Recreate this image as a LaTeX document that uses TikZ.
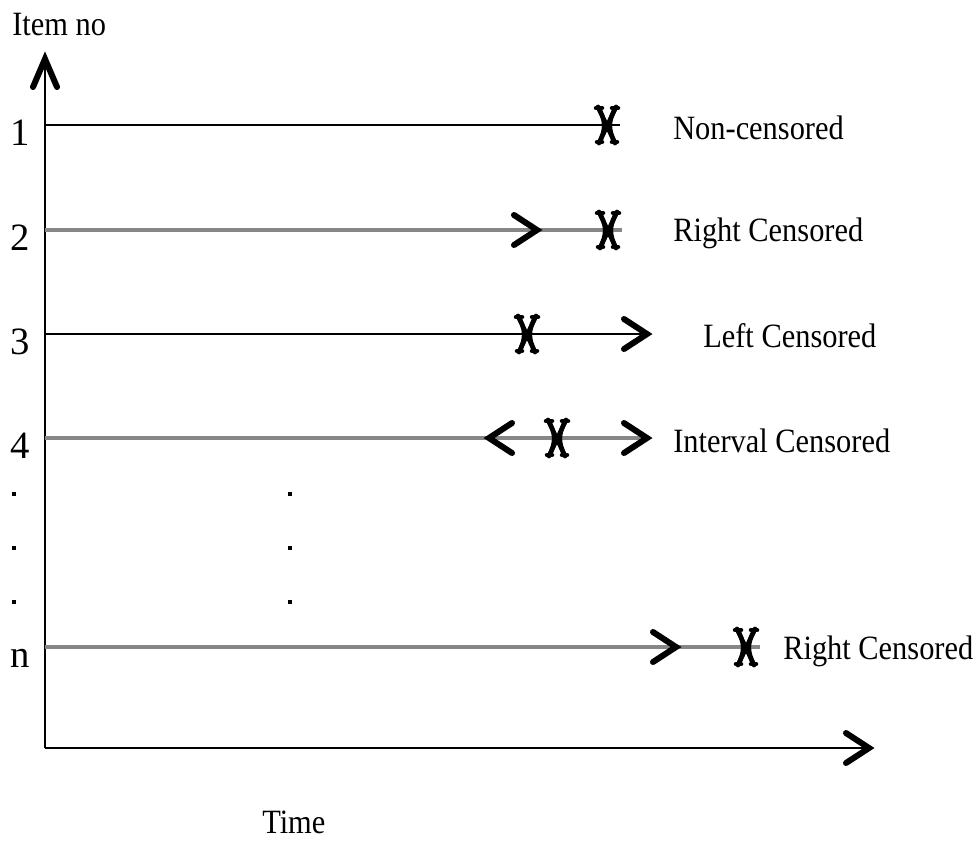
\documentclass[tikz,border=0pt]{standalone}
\usepackage{fontspec}
\setmainfont{Liberation Serif}
\begin{document}
\begin{tikzpicture}[x=0.75pt,y=-0.75pt,
  axis/.style={line width=2.6pt*0.75, black},
  blackline/.style={line width=2.4pt*0.75, black},
  grayline/.style={line width=4.8pt*0.75, gray!95},
  chevron/.style={line width=6pt*0.75, black, line cap=round, line join=miter},
  xmark/.style={line width=4.5pt*0.75, black, line cap=round},
  lbl/.style={anchor=west, inner sep=0pt, font=\fontsize{22.8pt}{24pt}\selectfont, yscale=1.12},
  idx/.style={anchor=base, inner sep=0pt, font=\fontsize{29pt}{30pt}\selectfont},
  dotmark/.style={fill=black, inner sep=0pt, minimum size=3.4pt},
  chevR/.pic={\draw[chevron] (-23,-15) -- (0,0) -- (-23,15);},
  chevL/.pic={\draw[chevron] (23,-15) -- (0,0) -- (23,15);},
  chevU/.pic={\draw[chevron] (-12,28) -- (0,0) -- (12,28);},
  cross/.pic={\draw[xmark] (-9,-18) .. controls (-1,-4) and (-1,4) .. (-8,18);
              \draw[xmark] (9,-18) .. controls (1,-4) and (1,4) .. (8,18);
              \draw[xmark] (-9,-18) -- (8,18);
              \draw[xmark] (9,-18) -- (-8,18);
              \draw[xmark] (-11,-17) -- (-5,-17);
              \draw[xmark] (11,-17) -- (5,-17);
              \draw[xmark] (-10,17) -- (-5,17);
              \draw[xmark] (10,17) -- (5,17);}
]
\useasboundingbox (0,0) rectangle (980,840);

% axes
\coordinate (O) at (45,748);
\coordinate (ytop) at (45,59);
\coordinate (xend) at (869,748);
\draw[axis] (O) -- (ytop);
\draw[axis] (O) -- (xend);
\pic at (ytop) {chevU};
\pic at (xend) {chevR};
\node[anchor=base west, inner sep=0pt, font=\fontsize{22.8pt}{24pt}\selectfont, yscale=1.12] (itemno) at (12,35) {Item no};
\node[anchor=base west, inner sep=0pt, font=\fontsize{22.8pt}{24pt}\selectfont, yscale=1.12] (time) at (262,833) {Time};

% row 1: non-censored
\coordinate (s1) at (45,125);
\coordinate (e1) at (620,125);
\draw[blackline] (s1) -- (e1);
\pic at (607,125) {cross};
\node[idx] (n1) at (20,145) {1};
\node[lbl] (l1) at (673,128) {Non-censored};

% row 2: right censored
\coordinate (s2) at (45,230);
\coordinate (e2) at (622,230);
\draw[grayline] (s2) -- (e2);
\pic at (537,230) {chevR};
\pic at (608,230) {cross};
\node[idx] (n2) at (20,250) {2};
\node[lbl] (l2) at (673,233) {Right Censored};

% row 3: left censored
\coordinate (s3) at (45,334);
\coordinate (e3) at (647,334);
\draw[blackline] (s3) -- (e3);
\pic at (527,334) {cross};
\pic at (647,334) {chevR};
\node[idx] (n3) at (20,354) {3};
\node[lbl] (l3) at (703,336) {Left Censored};

% row 4: interval censored
\coordinate (s4) at (45,438);
\coordinate (e4) at (647,438);
\draw[grayline] (s4) -- (e4);
\pic at (489,438) {chevL};
\pic at (557,438) {cross};
\pic at (647,438) {chevR};
\node[idx] (n4) at (20,458) {4};
\node[lbl] (l4) at (673,441) {Interval Censored};

% ellipsis rows
\foreach \yy [count=\k] in {494,548,602} {
  \node[dotmark] (dl\k) at (14,\yy) {};
  \node[dotmark] (dm\k) at (290,\yy) {};
}

% row n: right censored
\coordinate (sn) at (45,647);
\coordinate (en) at (760,647);
\draw[grayline] (sn) -- (en);
\pic at (676,647) {chevR};
\pic at (746,647) {cross};
\node[idx] (nn) at (20,667) {n};
\node[lbl] (ln) at (783,651) {Right Censored};
\end{tikzpicture}
\end{document}
